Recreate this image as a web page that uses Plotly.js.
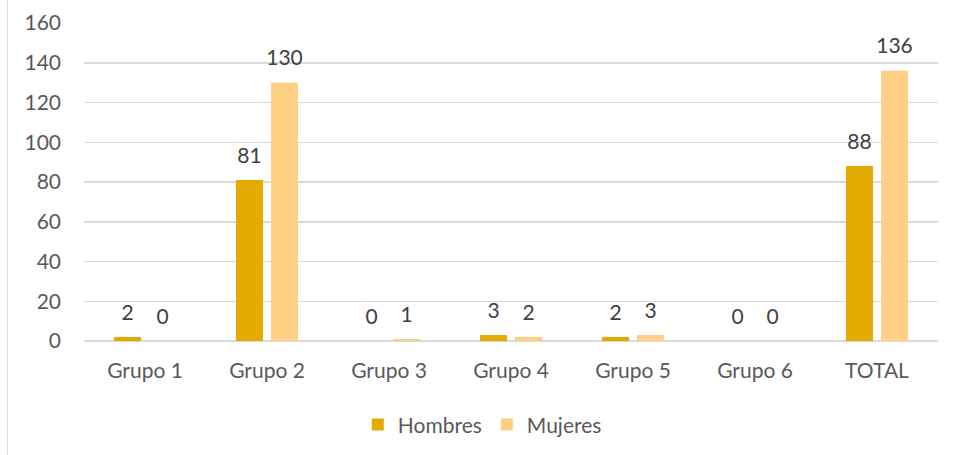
<!DOCTYPE html>
<html>
<head>
<meta charset="utf-8">
<script src="https://cdn.plot.ly/plotly-3.0.1.min.js"></script>
<style>
  body { margin: 0; background: #fff; }
  #wrap { position: relative; width: 955px; height: 455px; }
  #edge { position: absolute; left: 7px; top: 0; width: 1px; height: 455px; background: #d9d9d9; }
  #plotlyChart { position: absolute; left: 0; top: 0; width: 955px; height: 455px; }
</style>
</head>
<body>
<div id="wrap">
  <div id="plotlyChart"></div>
  <div id="edge"></div>
</div>
<script>
// Data
let groups  = ["Grupo 1", "Grupo 2", "Grupo 3", "Grupo 4", "Grupo 5", "Grupo 6", "TOTAL"]
let hombres = [2, 81, 0, 3, 2, 0, 88]
let mujeres = [0, 130, 1, 2, 3, 0, 136]
let yTicks  = [0, 20, 40, 60, 80, 100, 120, 140, 160]

let fontFamily = 'Lato, "Open Sans", sans-serif'
let labelFont = { family: fontFamily, size: 21, color: '#404040' }

function barTrace(name, values, color) {
    return {
        x: groups,
        y: values,
        name: name,
        type: 'bar',
        marker: { color: color },
        hoverinfo: 'skip'
    };
}

// invisible markers carry the value labels, grouped like the bars
function labelTrace(name, values) {
    return {
        x: groups,
        y: values,
        name: name,
        type: 'scatter',
        mode: 'markers+text',
        marker: { size: 18, opacity: 0 },
        text: values.map(String),
        textposition: 'top center',
        textfont: labelFont,
        cliponaxis: false,
        showlegend: false,
        hoverinfo: 'skip'
    };
}

let data = [
    barTrace('Hombres', hombres, '#e3aa00'),
    barTrace('Mujeres', mujeres, '#ffcf84'),
    labelTrace('Hombres', hombres),
    labelTrace('Mujeres', mujeres)
];

let layout = {
    width: 955,
    height: 455,
    margin: { l: 84, r: 17, t: 23, b: 114 },
    paper_bgcolor: '#ffffff',
    plot_bgcolor: '#ffffff',
    font: { family: fontFamily, size: 21, color: '#595959' },
    barmode: 'group',
    bargap: 0.426,
    bargroupgap: 0.23,
    scattermode: 'group',
    scattergap: 0.426,
    showlegend: true,
    legend: {
        orientation: 'h',
        x: 0.505, xanchor: 'center', xref: 'container',
        y: 0.066, yref: 'container', yanchor: 'middle',
        font: { family: fontFamily, size: 21, color: '#595959' },
        itemwidth: 30,
        traceorder: 'normal'
    },
    xaxis: {
        type: 'category',
        showgrid: false,
        zeroline: false,
        showline: false,
        ticks: '',
        ticklabelstandoff: 15,
        tickfont: { family: fontFamily, size: 21, color: '#595959' }
    },
    yaxis: {
        range: [0, 160],
        tickvals: yTicks,
        showgrid: true,
        gridcolor: '#d9d9d9',
        gridwidth: 1.5,
        zeroline: true,
        zerolinecolor: '#d9d9d9',
        zerolinewidth: 1.5,
        showline: false,
        ticks: '',
        ticklabelstandoff: 22,
        tickfont: { family: fontFamily, size: 21, color: '#595959' }
    }
};

Plotly.newPlot('plotlyChart', data, layout, { displayModeBar: false, staticPlot: true });
</script>
</body>
</html>
